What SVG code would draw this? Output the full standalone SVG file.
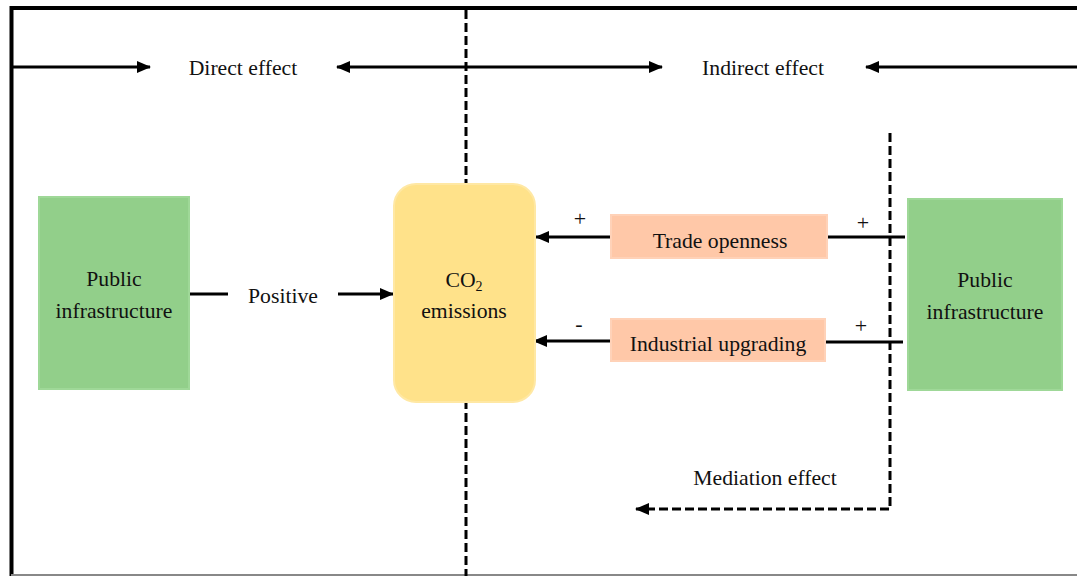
<svg xmlns="http://www.w3.org/2000/svg" width="1077" height="576" viewBox="0 0 1077 576">
<defs>
<marker id="ah" markerUnits="userSpaceOnUse" markerWidth="14" markerHeight="12" refX="13" refY="6" orient="auto-start-reverse">
<path d="M0,0 L14,6 L0,12 Z" fill="#000"/>
</marker>
<style>
text{font-family:'Liberation Serif','Times New Roman',Times,serif;font-size:21.7px;fill:#111;text-anchor:middle}
.sign{font-size:22px}
.ln{stroke:#000;stroke-width:3;fill:none}
.dash{stroke:#000;stroke-width:3;fill:none;stroke-dasharray:9 4}
.green{fill:#92CF8A;stroke:#9FD898;stroke-width:2}
.peach{fill:#FFC8A8;stroke:#FFD2B8;stroke-width:2}
.yellow{fill:#FFE28A;stroke:#FFE8A4;stroke-width:2}
</style>
</defs>
<rect width="1077" height="576" fill="#fff"/>
<g id="frame">
<path d="M11.5,576 V8 H1077" stroke="#000" stroke-width="4" fill="none"/>
<line x1="11" y1="575" x2="1077" y2="575" stroke="#888" stroke-width="2"/>
</g>
<g id="connectors">
<line class="dash" x1="466" y1="10" x2="466" y2="576"/>
<line class="ln" x1="12" y1="67" x2="150" y2="67" marker-end="url(#ah)"/>
<line class="ln" x1="337" y1="67" x2="662" y2="67" marker-start="url(#ah)" marker-end="url(#ah)"/>
<line class="ln" x1="1077" y1="67" x2="866" y2="67" marker-end="url(#ah)"/>
<line class="ln" x1="190" y1="294" x2="228" y2="294"/>
<line class="ln" x1="338" y1="294" x2="393" y2="294" marker-end="url(#ah)"/>
<line class="ln" x1="610" y1="237" x2="536" y2="237" marker-end="url(#ah)"/>
<line class="ln" x1="610" y1="341" x2="534" y2="341" marker-end="url(#ah)"/>
<line class="ln" x1="828" y1="237" x2="905" y2="237"/>
<line class="ln" x1="826" y1="342" x2="903" y2="342"/>
<path class="dash" d="M890,133 V509 H636" marker-end="url(#ah)"/>
</g>
<g id="labels">
<text x="243" y="75">Direct effect</text>
<text x="763" y="75">Indirect effect</text>
<text x="283" y="303">Positive</text>
<text x="765" y="485">Mediation effect</text>
<text class="sign" x="580" y="226">+</text>
<text class="sign" x="579" y="331">-</text>
<text class="sign" x="863" y="230">+</text>
<text class="sign" x="861" y="333">+</text>
</g>
<g id="node-public-left">
<rect class="green" x="39" y="197" width="150" height="192"/>
<text x="114" y="286">Public</text>
<text x="114" y="318">infrastructure</text>
</g>
<g id="node-co2">
<rect class="yellow" x="394" y="184" width="141" height="218" rx="22" ry="22"/>
<text x="464" y="287">CO<tspan font-size="14" dy="4">2</tspan></text>
<text x="464" y="318">emissions</text>
</g>
<g id="node-trade">
<rect class="peach" x="611" y="215" width="216" height="43"/>
<text x="720" y="248">Trade openness</text>
</g>
<g id="node-industrial">
<rect class="peach" x="611" y="319" width="214" height="42"/>
<text x="718" y="351">Industrial upgrading</text>
</g>
<g id="node-public-right">
<rect class="green" x="908" y="199" width="154" height="191"/>
<text x="985" y="287">Public</text>
<text x="985" y="319">infrastructure</text>
</g>
</svg>
